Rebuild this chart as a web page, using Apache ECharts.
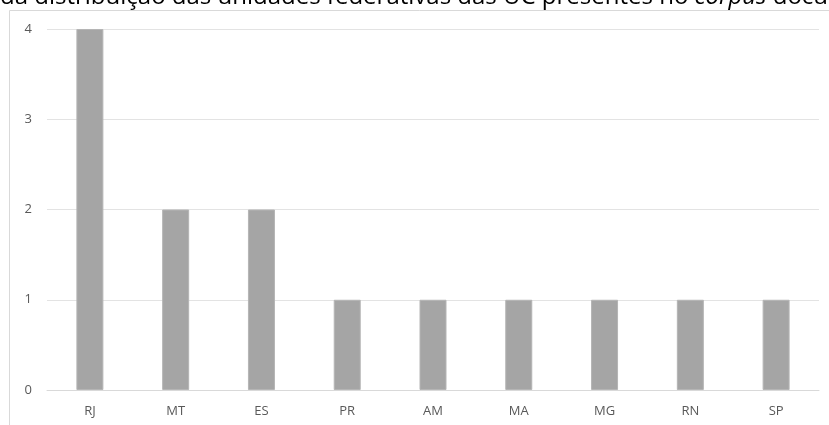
<!DOCTYPE html>
<html>
<head>
<meta charset="utf-8">
<script src="https://cdn.jsdelivr.net/npm/echarts@6/dist/echarts.min.js"></script>
<style>
  html, body { margin: 0; padding: 0; background: #fff; }
  #chart { width: 829px; height: 425px; }
</style>
</head>
<body>
<div id="chart"></div>
<script>
// dados
const estados = ['RJ', 'MT', 'ES', 'PR', 'AM', 'MA', 'MG', 'RN', 'SP'];
const quantidades = [4, 2, 2, 1, 1, 1, 1, 1, 1];
const yTicks = [0, 1, 2, 3, 4];

const myChart = echarts.init(document.getElementById('chart'));
myChart.setOption({
  animation: false,
  textStyle: { fontFamily: 'Open Sans' },
  graphic: [
    {
      type: 'rect',
      silent: true,
      shape: { x: 9.5, y: 10.5, width: 900, height: 500 },
      style: { fill: 'none', stroke: '#d9d9d9', lineWidth: 1 }
    },
    {
      type: 'text',
      silent: true,
      x: 0,
      y: 9,
      style: {
        text: 'da distribuição das unidades federativas das UC presentes no {i|corpus} docu',
        font: '24px "Open Sans"',
        fill: '#000',
        verticalAlign: 'bottom',
        rich: { i: { fontStyle: 'italic', fontSize: 24, fontFamily: 'Open Sans' } }
      }
    }
  ],
  grid: { left: 47, right: 10, top: 29, bottom: 35 },
  xAxis: {
    type: 'category',
    data: estados,
    axisLine: { lineStyle: { color: '#d9d9d9' } },
    axisTick: { show: false },
    axisLabel: { color: '#595959', fontSize: 13, margin: 15 }
  },
  yAxis: {
    type: 'value',
    min: yTicks[0],
    max: yTicks[yTicks.length - 1],
    interval: 1,
    axisLine: { show: false },
    axisTick: { show: false },
    axisLabel: { color: '#595959', fontSize: 13, margin: 15 },
    splitLine: { lineStyle: { color: '#e3e3e3' } }
  },
  series: [{
    type: 'bar',
    data: quantidades,
    barWidth: 27,
    itemStyle: { color: '#a5a5a5', borderColor: '#b5b5b5', borderWidth: 1 }
  }]
});
</script>
</body>
</html>
